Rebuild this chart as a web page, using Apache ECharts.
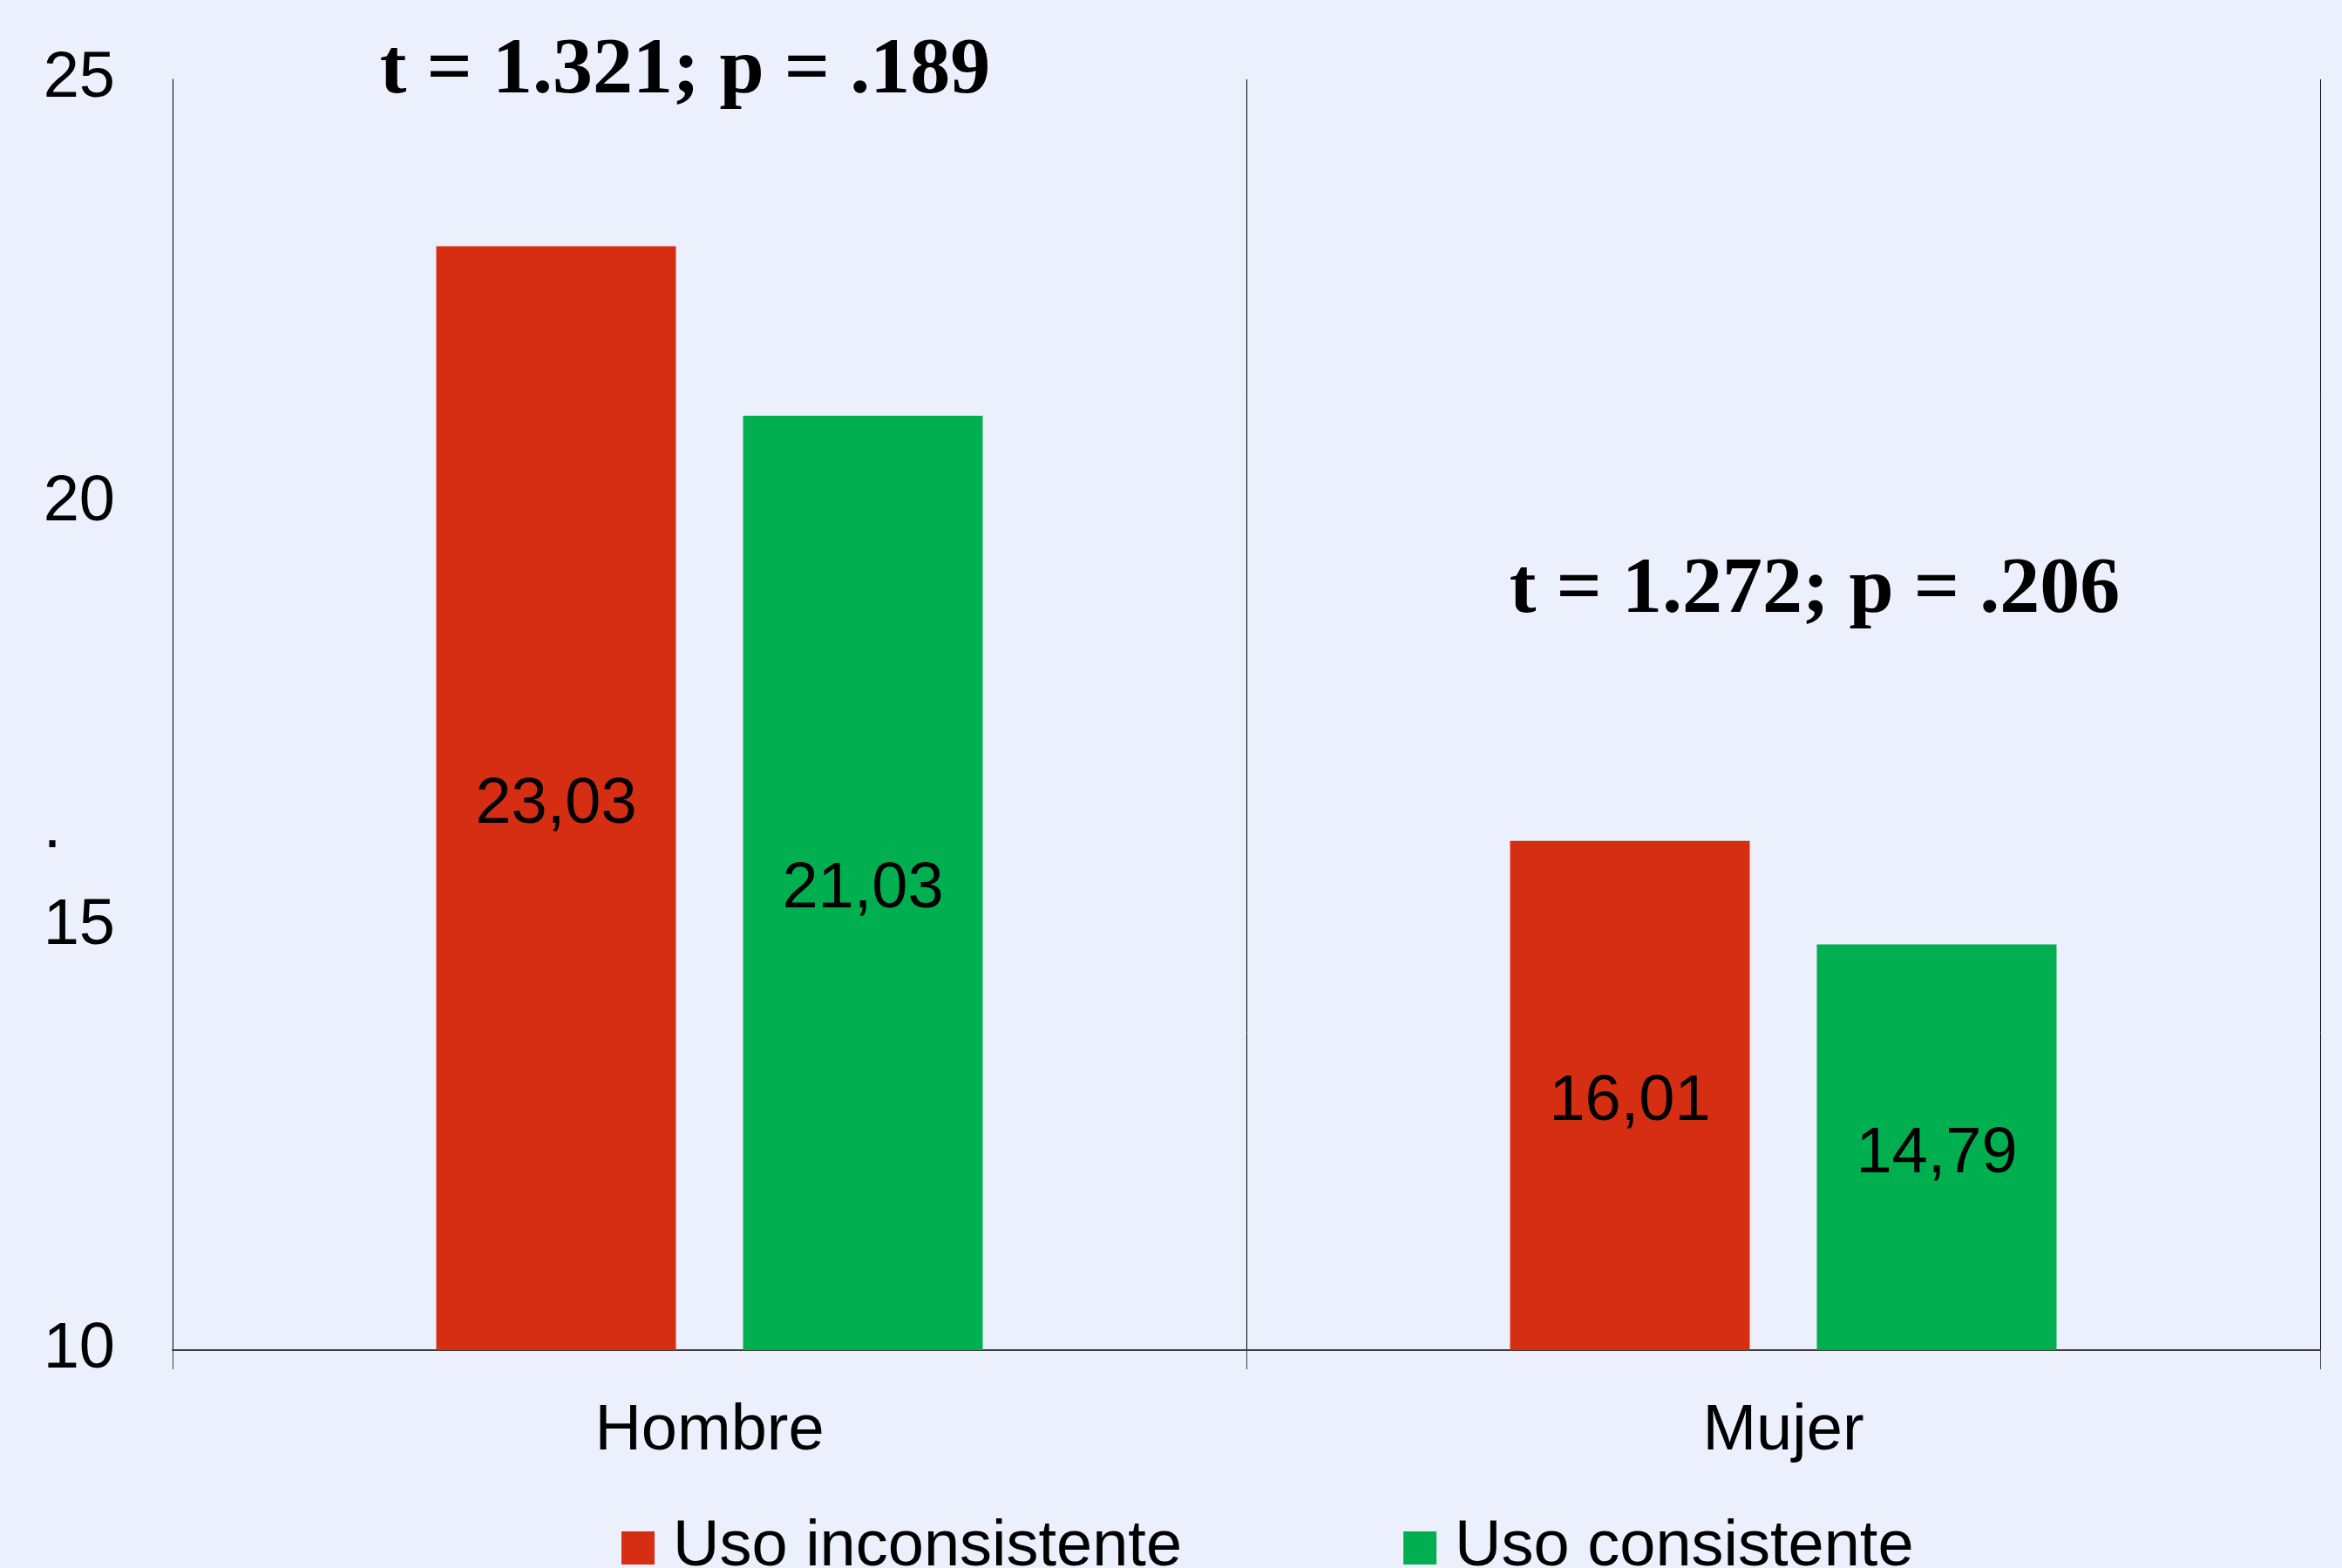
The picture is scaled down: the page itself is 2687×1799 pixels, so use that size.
<!DOCTYPE html>
<html lang="es">
  <head>
    <meta charset="UTF-8" />
    <title>Uso consistente por sexo</title>
    <style>
      html, body { margin: 0; padding: 0; background: #ECEFFC; }
      #main { width: 2687px; height: 1799px; }
    </style>
  </head>
  <body>
    <script src="https://cdn.jsdelivr.net/npm/echarts@6/dist/echarts.min.js"></script>
    <div id="main"></div>
    <script>
      const categories = ['Hombre', 'Mujer']
      const inconsistente = [23.03, 16.01]
      const consistente = [21.03, 14.79]
      const yTicks = { min: 10, max: 25, interval: 5 }
      const tests = ['t = 1.321; p = .189', 't = 1.272; p = .206']

      const sans = 'Liberation Sans, Arial, sans-serif'
      const serif = 'Liberation Serif, Times New Roman, serif'
      const fmt = p => p.value.toFixed(2).replace('.', ',')

      const chart = echarts.init(document.getElementById('main'))
      chart.setOption({
        backgroundColor: '#ECEFFC',
        animation: false,
        textStyle: { fontFamily: sans },
        grid: { left: 198, right: 25, top: 91, bottom: 250 },
        legend: {
          left: 708,
          top: 1734,
          itemWidth: 38,
          itemHeight: 38,
          itemGap: 254,
          icon: 'rect',
          textStyle: { fontSize: 74, color: '#000', fontFamily: sans, padding: [0, 0, 0, 16] },
          data: ['Uso inconsistente', 'Uso consistente']
        },
        xAxis: {
          type: 'category',
          data: categories,
          axisLine: { lineStyle: { color: '#404040', width: 2 } },
          axisTick: { show: true, length: 22, lineStyle: { color: '#404040', width: 1 } },
          splitLine: { show: true, lineStyle: { color: '#000', width: 1 } },
          axisLabel: { fontSize: 74, color: '#000', margin: 57 }
        },
        yAxis: {
          type: 'value',
          min: yTicks.min,
          max: yTicks.max,
          interval: yTicks.interval,
          axisLine: { show: true, lineStyle: { color: '#000', width: 1 } },
          axisTick: { show: false },
          splitLine: { show: false },
          axisLabel: { fontSize: 74, color: '#000', margin: 66 }
        },
        series: [
          {
            name: 'Uso inconsistente',
            type: 'bar',
            data: inconsistente,
            barWidth: 275,
            barGap: '28%',
            itemStyle: { color: '#D62E12' },
            label: { show: true, position: 'inside', offset: [0, 8], fontSize: 74, color: '#000', formatter: fmt }
          },
          {
            name: 'Uso consistente',
            type: 'bar',
            data: consistente,
            barWidth: 275,
            itemStyle: { color: '#00B050' },
            label: { show: true, position: 'inside', offset: [0, 8], fontSize: 74, color: '#000', formatter: fmt }
          }
        ],
        graphic: {
          elements: [
            {
              type: 'text', x: 786, y: 82,
              style: { text: tests[0], font: 'bold 92px ' + serif, fill: '#000', align: 'center', verticalAlign: 'middle' }
            },
            {
              type: 'text', x: 2082, y: 678,
              style: { text: tests[1], font: 'bold 92px ' + serif, fill: '#000', align: 'center', verticalAlign: 'middle' }
            },
            {
              type: 'text', x: 60, y: 952,
              style: { text: '.', font: '74px ' + sans, fill: '#000', align: 'center', verticalAlign: 'middle' }
            }
          ]
        }
      })
    </script>
  </body>
</html>
